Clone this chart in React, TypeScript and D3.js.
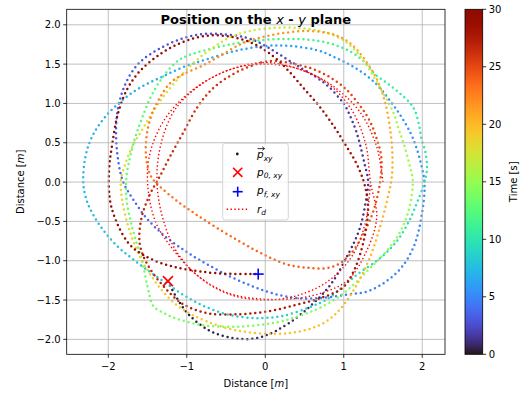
import React from 'react';
import * as d3 from 'd3';

// ---- data ----
const trajT = [0.00,0.12,0.25,0.38,0.50,0.62,0.74,0.87,1.00,1.10,1.20,1.30,1.38,1.46,1.58,1.70,1.78,1.86,1.94,2.02,2.10,2.18,2.26,2.36,2.48,2.60,2.72,2.84,2.96,3.06,3.16,3.26,3.36,3.46,3.55,3.64,3.73,3.82,3.92,4.02,4.12,4.22,4.32,4.42,4.52,4.62,4.72,4.82,4.92,5.02,5.12,5.22,5.32,5.42,5.52,5.62,5.72,5.82,5.92,6.02,6.14,6.26,6.38,6.50,6.60,6.70,6.80,6.90,7.00,7.10,7.20,7.30,7.40,7.50,7.60,7.70,7.80,7.90,8.00,8.12,8.24,8.36,8.50,8.64,8.78,8.90,9.02,9.14,9.26,9.38,9.50,9.62,9.74,9.86,9.98,10.10,10.22,10.34,10.46,10.58,10.70,10.82,10.94,11.04,11.14,11.24,11.36,11.48,11.62,11.76,11.90,12.04,12.16,12.26,12.38,12.50,12.62,12.74,12.86,12.98,13.10,13.22,13.34,13.46,13.58,13.68,13.74,13.80,13.92,14.04,14.16,14.28,14.40,14.52,14.64,14.76,14.88,15.00,15.12,15.24,15.36,15.48,15.60,15.72,15.84,15.96,16.08,16.20,16.32,16.44,16.56,16.68,16.82,16.96,17.10,17.22,17.34,17.46,17.58,17.70,17.82,17.94,18.06,18.18,18.30,18.42,18.54,18.66,18.78,18.90,19.02,19.14,19.28,19.42,19.56,19.68,19.80,19.92,20.04,20.16,20.28,20.40,20.52,20.64,20.76,20.88,21.00,21.12,21.24,21.36,21.50,21.64,21.78,21.92,22.06,22.20,22.34,22.46,22.58,22.70,22.82,22.94,23.06,23.16,23.28,23.40,23.52,23.64,23.76,23.88,24.00,24.12,24.24,24.36,24.48,24.60,24.72,24.84,24.96,25.08,25.20,25.32,25.44,25.56,25.68,25.80,25.92,26.04,26.16,26.28,26.40,26.52,26.64,26.76,26.88,27.00,27.12,27.24,27.36,27.50,27.64,27.78,27.90,28.00,28.08,28.16,28.24,28.32,28.40,28.48,28.56,28.64,28.72,28.80,28.88,28.96,29.04,29.12,29.20,29.28,29.36,29.44,29.50,29.56,29.62,29.68,29.74,29.80,29.85,29.90,29.94,29.97,30.00];
const trajX = [-1.24,-1.13,-0.96,-0.71,-0.43,-0.15,0.14,0.48,0.82,1.06,1.21,1.29,1.31,1.27,1.17,1.04,0.95,0.80,0.64,0.44,0.28,0.12,-0.05,-0.25,-0.54,-0.82,-1.10,-1.36,-1.58,-1.73,-1.83,-1.89,-1.90,-1.87,-1.81,-1.69,-1.52,-1.30,-1.03,-0.75,-0.45,-0.15,0.15,0.45,0.75,1.05,1.30,1.53,1.74,1.90,1.99,2.03,1.98,1.88,1.74,1.57,1.38,1.15,0.90,0.65,0.32,0.00,-0.37,-0.75,-1.05,-1.31,-1.56,-1.80,-2.03,-2.20,-2.29,-2.32,-2.28,-2.19,-2.05,-1.88,-1.70,-1.50,-1.27,-1.02,-0.75,-0.45,-0.11,0.23,0.57,0.82,1.02,1.19,1.38,1.55,1.70,1.83,1.93,2.02,2.06,2.04,1.99,1.96,1.91,1.83,1.70,1.55,1.40,1.29,1.15,1.00,0.80,0.55,0.25,-0.10,-0.45,-0.75,-0.98,-1.14,-1.31,-1.45,-1.56,-1.65,-1.72,-1.77,-1.77,-1.72,-1.65,-1.57,-1.50,-1.43,-1.28,-1.12,-0.80,-0.45,-0.10,0.25,0.65,0.92,1.13,1.30,1.45,1.61,1.74,1.84,1.88,1.83,1.76,1.70,1.65,1.58,1.48,1.38,1.27,1.12,0.95,0.70,0.40,0.10,-0.20,-0.45,-0.65,-0.85,-1.05,-1.25,-1.42,-1.56,-1.69,-1.78,-1.84,-1.82,-1.74,-1.62,-1.46,-1.28,-1.05,-0.75,-0.35,0.10,0.48,0.78,1.00,1.18,1.34,1.46,1.55,1.61,1.62,1.59,1.53,1.44,1.32,1.17,1.00,0.78,0.48,0.20,-0.05,-0.30,-0.55,-0.80,-1.05,-1.22,-1.35,-1.45,-1.51,-1.52,-1.47,-1.36,-1.15,-0.90,-0.62,-0.32,-0.04,0.25,0.55,0.85,1.08,1.25,1.38,1.46,1.48,1.42,1.33,1.20,1.03,0.83,0.60,0.33,0.06,-0.20,-0.45,-0.68,-0.88,-1.05,-1.20,-1.34,-1.48,-1.58,-1.60,-1.50,-1.30,-1.05,-0.72,-0.32,0.05,0.40,0.72,0.99,1.15,1.26,1.31,1.27,1.17,1.03,0.88,0.70,0.50,0.30,0.10,-0.15,-0.45,-0.75,-1.05,-1.32,-1.58,-1.76,-1.88,-1.95,-1.99,-1.98,-1.89,-1.74,-1.55,-1.30,-1.00,-0.60,-0.09];
const trajY = [-1.26,-1.47,-1.70,-1.89,-1.98,-1.99,-1.89,-1.66,-1.32,-0.91,-0.57,-0.19,0.02,0.21,0.61,0.93,1.06,1.22,1.34,1.46,1.56,1.66,1.76,1.84,1.88,1.88,1.81,1.69,1.54,1.35,1.12,0.85,0.55,0.25,0.00,-0.21,-0.45,-0.67,-0.87,-1.04,-1.20,-1.33,-1.43,-1.48,-1.47,-1.43,-1.39,-1.27,-1.08,-0.80,-0.44,-0.05,0.25,0.56,0.82,1.06,1.28,1.45,1.58,1.68,1.73,1.73,1.67,1.56,1.46,1.34,1.22,1.06,0.84,0.59,0.33,0.02,-0.22,-0.42,-0.63,-0.82,-0.97,-1.12,-1.28,-1.45,-1.59,-1.69,-1.73,-1.70,-1.59,-1.47,-1.30,-1.16,-1.03,-0.89,-0.72,-0.50,-0.27,-0.03,0.17,0.38,0.55,0.72,0.90,1.02,1.14,1.26,1.37,1.50,1.62,1.70,1.77,1.81,1.82,1.80,1.75,1.68,1.61,1.52,1.33,1.10,0.84,0.59,0.33,0.06,-0.20,-0.48,-0.74,-1.00,-1.33,-1.57,-1.67,-1.74,-1.82,-1.84,-1.82,-1.76,-1.62,-1.47,-1.30,-1.13,-0.98,-0.80,-0.59,-0.31,0.00,0.25,0.50,0.67,0.84,0.99,1.17,1.34,1.52,1.70,1.83,1.92,1.96,1.96,1.92,1.84,1.72,1.57,1.38,1.15,0.91,0.68,0.46,0.24,0.02,-0.25,-0.58,-0.90,-1.18,-1.42,-1.62,-1.77,-1.89,-1.93,-1.89,-1.77,-1.56,-1.28,-0.94,-0.58,-0.24,0.05,0.35,0.68,1.00,1.27,1.48,1.68,1.82,1.90,1.92,1.89,1.84,1.76,1.62,1.48,1.37,1.25,1.06,0.85,0.60,0.33,0.10,-0.04,-0.22,-0.40,-0.58,-0.76,-0.91,-1.04,-1.09,-1.08,-0.92,-0.66,-0.36,-0.02,0.30,0.55,0.78,0.98,1.18,1.33,1.44,1.51,1.54,1.47,1.35,1.18,0.93,0.62,0.35,0.08,-0.18,-0.47,-0.78,-1.05,-1.32,-1.55,-1.67,-1.68,-1.64,-1.56,-1.47,-1.34,-1.08,-0.72,-0.35,-0.05,0.22,0.46,0.70,0.95,1.18,1.41,1.60,1.76,1.85,1.86,1.78,1.64,1.43,1.18,0.86,0.48,0.15,-0.22,-0.52,-0.78,-0.93,-1.04,-1.11,-1.16,-1.17];

const rdX = [1.50,1.42,1.20,0.85,0.45,0.00,-0.45,-0.90,-1.26,-1.46,-1.50,-1.40,-1.18,-0.85,-0.45,0.00,0.40,0.75,1.05,1.28,1.42,1.34,1.28,1.10,0.80,0.42,0.00,-0.42,-0.82,-1.15,-1.33,-1.38,-1.30,-1.12,-0.80,-0.42,0.00,0.42,0.80,1.10,1.28,1.34];
const rdY = [0.00,0.45,0.90,1.23,1.43,1.52,1.43,1.19,0.83,0.40,0.00,-0.50,-0.85,-1.20,-1.42,-1.49,-1.48,-1.40,-1.25,-0.90,-0.45,0.00,0.48,0.92,1.25,1.44,1.50,1.44,1.24,0.92,0.48,0.00,-0.48,-0.90,-1.24,-1.44,-1.50,-1.44,-1.26,-0.95,-0.50,0.00];

const startPoint = [-1.24, -1.26];
const endPoint = [-0.09, -1.17];

const xTicks = [-2, -1, 0, 1, 2];
const yTicks = [-2.0, -1.5, -1.0, -0.5, 0.0, 0.5, 1.0, 1.5, 2.0];
const cbTicks = [0, 5, 10, 15, 20, 25, 30];
const timeMax = 30;

const FONT = 'DejaVu Sans, sans-serif';
const fmtTick = (v: number, dec: number) => v.toFixed(dec).replace('-', '\u2212');

export default function App() {
  const L = 66.7, R = 445, T = 9.3, B = 354.3;
  const x = d3.scaleLinear().domain([-2.53, 2.29]).range([L, R]);
  const y = d3.scaleLinear().domain([-2.19, 2.197]).range([B, T]);
  const cbL = 465, cbR = 482.7;
  const cy = d3.scaleLinear().domain([0, timeMax]).range([B, T]);

  const pts = trajX.map((v, i) => [x(v), y(trajY[i])]);
  const period = 5;
  let cum = 0;
  const segs: { d: string; c: string; off: number }[] = [];
  for (let i = 0; i < pts.length - 1; i++) {
    const p0 = pts[Math.max(0, i - 1)], p1 = pts[i], p2 = pts[i + 1], p3 = pts[Math.min(pts.length - 1, i + 2)];
    const c1 = [p1[0] + (p2[0] - p0[0]) / 6, p1[1] + (p2[1] - p0[1]) / 6];
    const c2 = [p2[0] - (p3[0] - p1[0]) / 6, p2[1] - (p3[1] - p1[1]) / 6];
    const d = `M${p1[0]},${p1[1]}C${c1[0]},${c1[1]} ${c2[0]},${c2[1]} ${p2[0]},${p2[1]}`;
    let len = 0, px = p1[0], py = p1[1];
    for (let k = 1; k <= 10; k++) {
      const t = k / 10, u = 1 - t;
      const bx = u * u * u * p1[0] + 3 * u * u * t * c1[0] + 3 * u * t * t * c2[0] + t * t * t * p2[0];
      const by = u * u * u * p1[1] + 3 * u * u * t * c1[1] + 3 * u * t * t * c2[1] + t * t * t * p2[1];
      len += Math.hypot(bx - px, by - py); px = bx; py = by;
    }
    const tm = (trajT[i] + trajT[i + 1]) / 2;
    segs.push({ d, c: d3.interpolateTurbo(tm / timeMax), off: cum % period });
    cum += len;
  }

  const rdLine = d3.line<number>().x((v) => x(v)).y((_, i) => y(rdY[i])).curve(d3.curveCatmullRom);
  const rdPath = rdLine(rdX) || '';

  const gradStops = d3.range(0, 1.0001, 0.02);

  const sx = x(startPoint[0]), sy = y(startPoint[1]);
  const ex = x(endPoint[0]), ey = y(endPoint[1]);

  return (
    <svg width={531} height={393} style={{ position: 'absolute', left: 0, top: 0, background: '#fff' }} fontFamily={FONT}>
      <defs>
        <linearGradient id="cbgrad" x1="0" y1="1" x2="0" y2="0">
          {gradStops.map((s) => (
            <stop key={s} offset={s} stopColor={d3.interpolateTurbo(s)} />
          ))}
        </linearGradient>
        <clipPath id="plotclip">
          <rect x={L} y={T} width={R - L} height={B - T} />
        </clipPath>
      </defs>
      <rect x={0} y={0} width={531} height={393} fill="#fff" />

      {/* trajectory */}
      <g clipPath="url(#plotclip)">
        {segs.map((s, i) => (
          <path key={i} d={s.d} fill="none" stroke={s.c} strokeWidth={2.5} strokeLinecap="round"
            strokeDasharray={`0 ${period}`} strokeDashoffset={s.off} />
        ))}
        <path d={rdPath} fill="none" stroke="#ff0000" strokeWidth={1.4} strokeDasharray="1.4 2.4" />
      </g>

      {/* grid */}
      <g stroke="#b0b0b0" strokeWidth={0.8}>
        {xTicks.map((t) => <line key={'gx' + t} x1={x(t)} x2={x(t)} y1={T} y2={B} />)}
        {yTicks.map((t) => <line key={'gy' + t} x1={L} x2={R} y1={y(t)} y2={y(t)} />)}
      </g>

      {/* start / end markers */}
      <g stroke="#ff0000" strokeWidth={1.6}>
        <line x1={sx - 5} y1={sy - 5} x2={sx + 5} y2={sy + 5} />
        <line x1={sx - 5} y1={sy + 5} x2={sx + 5} y2={sy - 5} />
      </g>
      <g stroke="#0000ff" strokeWidth={1.6}>
        <line x1={ex - 5.5} y1={ey} x2={ex + 5.5} y2={ey} />
        <line x1={ex} y1={ey - 5.5} x2={ex} y2={ey + 5.5} />
      </g>

      {/* axes frame */}
      <rect x={L} y={T} width={R - L} height={B - T} fill="none" stroke="#000" strokeWidth={0.8} />

      {/* ticks */}
      <g stroke="#000" strokeWidth={0.8}>
        {xTicks.map((t) => <line key={'tx' + t} x1={x(t)} x2={x(t)} y1={B} y2={B + 3.5} />)}
        {yTicks.map((t) => <line key={'ty' + t} x1={L - 3.5} x2={L} y1={y(t)} y2={y(t)} />)}
      </g>
      <g fontSize={10} fill="#000">
        {xTicks.map((t) => (
          <text key={'lx' + t} x={x(t)} y={B + 15.5} textAnchor="middle">{fmtTick(t, 0)}</text>
        ))}
        {yTicks.map((t) => (
          <text key={'ly' + t} x={L - 6} y={y(t) + 3.6} textAnchor="end">{fmtTick(t, 1)}</text>
        ))}
      </g>

      {/* axis labels */}
      <text x={(L + R) / 2} y={387} textAnchor="middle" fontSize={10}>
        Distance [<tspan fontStyle="italic">m</tspan>]
      </text>
      <text transform={`translate(23.5,${(T + B) / 2}) rotate(-90)`} textAnchor="middle" fontSize={10}>
        Distance [<tspan fontStyle="italic">m</tspan>]
      </text>

      {/* title */}
      <text x={(L + R) / 2} y={23.5} textAnchor="middle" fontSize={13} fontWeight="bold">
        Position on the <tspan fontStyle="italic" fontWeight="normal">x</tspan> - <tspan fontStyle="italic" fontWeight="normal">y</tspan> plane
      </text>

      {/* legend */}
      <g>
        <rect x={222.7} y={143.3} width={65.6} height={76.7} rx={2.5} fill="#fff" fillOpacity={0.8} stroke="#cccccc" strokeWidth={0.8} />
        <circle cx={237.3} cy={154} r={1.4} fill={d3.interpolateTurbo(0)} />
        <g stroke="#ff0000" strokeWidth={1.6}>
          <line x1={237.7 - 4.6} y1={172.3 - 4.6} x2={237.7 + 4.6} y2={172.3 + 4.6} />
          <line x1={237.7 - 4.6} y1={172.3 + 4.6} x2={237.7 + 4.6} y2={172.3 - 4.6} />
        </g>
        <g stroke="#0000ff" strokeWidth={1.6}>
          <line x1={237.7 - 5} y1={191.7} x2={237.7 + 5} y2={191.7} />
          <line x1={237.7} y1={191.7 - 5} x2={237.7} y2={191.7 + 5} />
        </g>
        <line x1={226.7} x2={248.3} y1={209.3} y2={209.3} stroke="#ff0000" strokeWidth={1.4} strokeDasharray="1.4 2.4" />
        <g fontSize={10.5} fontStyle="italic">
          <text x={257} y={158}>p<tspan fontSize={7.5} dy={2.5}>xy</tspan></text>
          <path d="M257.5,148.6 L264.5,148.6 M262.3,146.8 L264.5,148.6 L262.3,150.4" stroke="#000" strokeWidth={0.8} fill="none" />
          <text x={257} y={175.5}>p<tspan fontSize={7.5} dy={2.5}>0, xy</tspan></text>
          <text x={257} y={194}>p<tspan fontSize={7.5} dy={2.5}>f, xy</tspan></text>
          <text x={257} y={212.5}>r<tspan fontSize={7.5} dy={2.5}>d</tspan></text>
        </g>
      </g>

      {/* colorbar */}
      <rect x={cbL} y={T} width={cbR - cbL} height={B - T} fill="url(#cbgrad)" stroke="#000" strokeWidth={0.8} />
      <g stroke="#000" strokeWidth={0.8}>
        {cbTicks.map((t) => <line key={'ct' + t} x1={cbR} x2={cbR + 3.5} y1={cy(t)} y2={cy(t)} />)}
      </g>
      <g fontSize={10}>
        {cbTicks.map((t) => (
          <text key={'cl' + t} x={cbR + 6} y={cy(t) + 3.6}>{t}</text>
        ))}
      </g>
      <text transform={`translate(517,${(T + B) / 2}) rotate(-90)`} textAnchor="middle" fontSize={10}>Time [s]</text>
    </svg>
  );
}
